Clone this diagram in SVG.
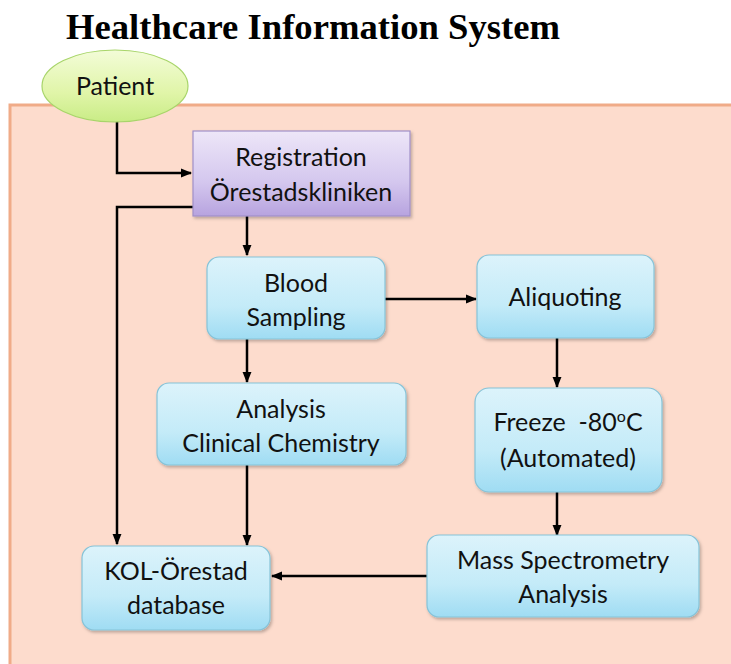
<svg xmlns="http://www.w3.org/2000/svg" width="731" height="664" viewBox="0 0 731 664">
  <defs>
    <linearGradient id="gBlue" x1="0" y1="0" x2="0" y2="1">
      <stop offset="0" stop-color="#dcf3fb"/>
      <stop offset="0.6" stop-color="#c4ebf8"/>
      <stop offset="1" stop-color="#9fdcf3"/>
    </linearGradient>
    <linearGradient id="gPurple" x1="0" y1="0" x2="0" y2="1">
      <stop offset="0" stop-color="#ede6f8"/>
      <stop offset="0.6" stop-color="#d4c7ee"/>
      <stop offset="1" stop-color="#b7a3df"/>
    </linearGradient>
    <linearGradient id="gGreen" x1="0" y1="0" x2="0" y2="1">
      <stop offset="0" stop-color="#f3fcd8"/>
      <stop offset="0.6" stop-color="#e0f5a8"/>
      <stop offset="1" stop-color="#c9ec86"/>
    </linearGradient>
    <filter id="shadow" x="-10%" y="-10%" width="130%" height="140%">
      <feDropShadow dx="1.5" dy="2" stdDeviation="1.5" flood-color="#000" flood-opacity="0.25"/>
    </filter>
    <marker id="arrow" viewBox="0 0 10 10" refX="9" refY="5" markerWidth="4.5" markerHeight="4.5" orient="auto" markerUnits="strokeWidth">
      <path d="M0,1 L10,5 L0,9 Z" fill="#000"/>
    </marker>
  </defs>
  <style>
    .title { font-family: "Liberation Serif", "DejaVu Serif", serif; font-weight: bold; font-size: 36px; fill: #000; }
    .lbl { font-family: Lato, "Open Sans", "Liberation Sans", sans-serif; font-size: 25px; fill: #111; text-anchor: middle; }
    .box { fill: url(#gBlue); stroke: #86c3d8; stroke-width: 1.2; filter: url(#shadow); }
    .conn { fill: none; stroke: #000; stroke-width: 2.5; }
  </style>

  <rect width="731" height="664" fill="#ffffff"/>

  <!-- title -->
  <text class="title" x="66" y="39" textLength="494" lengthAdjust="spacingAndGlyphs">Healthcare Information System</text>

  <!-- system boundary panel -->
  <rect x="10" y="105" width="730" height="570" fill="#fddccd" stroke="#f0ab88" stroke-width="3"/>

  <!-- connectors -->
  <g id="connectors">
    <polyline class="conn" points="117,120 117,173 191,173" marker-end="url(#arrow)"/>
    <polyline class="conn" points="193,207 117,207 117,544" marker-end="url(#arrow)"/>
    <line class="conn" x1="247" y1="216" x2="247" y2="255" marker-end="url(#arrow)"/>
    <line class="conn" x1="247" y1="339" x2="247" y2="382" marker-end="url(#arrow)"/>
    <line class="conn" x1="247" y1="465" x2="247" y2="545" marker-end="url(#arrow)"/>
    <line class="conn" x1="385" y1="299" x2="476" y2="299" marker-end="url(#arrow)"/>
    <line class="conn" x1="557" y1="338" x2="557" y2="387" marker-end="url(#arrow)"/>
    <line class="conn" x1="557" y1="492" x2="557" y2="535" marker-end="url(#arrow)"/>
    <line class="conn" x1="427" y1="576" x2="272" y2="576" marker-end="url(#arrow)"/>
  </g>

  <!-- patient -->
  <g id="patient">
    <ellipse cx="115" cy="86" rx="73" ry="36" fill="url(#gGreen)" stroke="#a8d56a" stroke-width="1.2"/>
    <text class="lbl" x="115" y="95">Patient</text>
  </g>

  <g id="registration">
    <rect x="193" y="131" width="217" height="85" fill="url(#gPurple)" stroke="#a090c8" stroke-width="1.2" filter="url(#shadow)"/>
    <text class="lbl" x="301" y="166">Registration</text>
    <text class="lbl" x="301" y="201">Örestadskliniken</text>
  </g>

  <g id="blood-sampling">
    <rect class="box" x="207" y="257" width="178" height="82" rx="12"/>
    <text class="lbl" x="296" y="292">Blood</text>
    <text class="lbl" x="296" y="326">Sampling</text>
  </g>

  <g id="aliquoting">
    <rect class="box" x="477" y="255" width="177" height="83" rx="12"/>
    <text class="lbl" x="565" y="306">Aliquoting</text>
  </g>

  <g id="analysis">
    <rect class="box" x="157" y="383" width="249" height="82" rx="12"/>
    <text class="lbl" x="281" y="418">Analysis</text>
    <text class="lbl" x="281" y="452">Clinical Chemistry</text>
  </g>

  <g id="freeze">
    <rect class="box" x="475" y="388" width="187" height="104" rx="14"/>
    <text class="lbl" x="568" y="431" xml:space="preserve">Freeze  -80<tspan font-size="16" dy="-9">o</tspan><tspan dy="9">C</tspan></text>
    <text class="lbl" x="568" y="467">(Automated)</text>
  </g>

  <g id="mass-spectrometry">
    <rect class="box" x="427" y="535" width="272" height="82" rx="12"/>
    <text class="lbl" x="563" y="569">Mass Spectrometry</text>
    <text class="lbl" x="563" y="603">Analysis</text>
  </g>

  <g id="kol-database">
    <rect class="box" x="82" y="546" width="188" height="84" rx="12"/>
    <text class="lbl" x="176" y="580">KOL-Örestad</text>
    <text class="lbl" x="176" y="614">database</text>
  </g>
</svg>
